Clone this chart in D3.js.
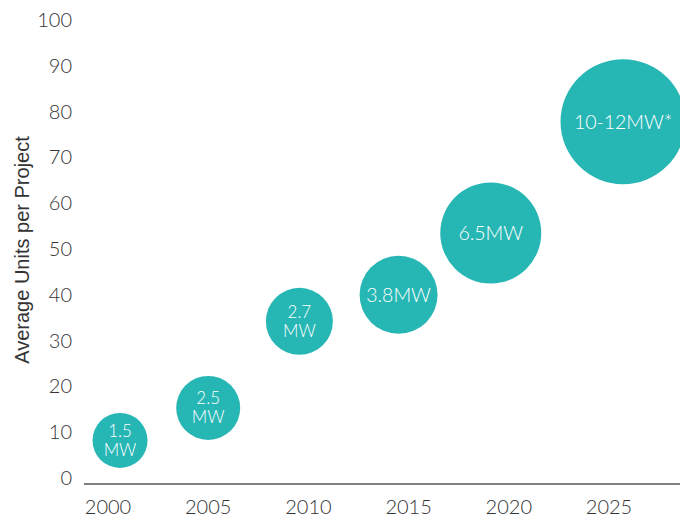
<!DOCTYPE html>
<html>
<head>
<meta charset="utf-8">
<script src="https://d3js.org/d3.v7.min.js"></script>
<style>
  body { margin: 0; background: #fff; font-family: Lato, "Open Sans", sans-serif; }
</style>
</head>
<body>
<script>
// chart data
var years = [2000, 2005, 2010, 2015, 2020, 2025];
var yTicks = [0, 10, 20, 30, 40, 50, 60, 70, 80, 90, 100];
var bubbleYear = [2000.6, 2005.0, 2009.55, 2014.5, 2019.1, 2025.7];
var unitsPerProject = [8.2, 15.3, 34.2, 40, 53.5, 77.8];
var bubbleSize = [27.5, 32, 33.5, 39, 50.5, 62.5];
var bubbleLabels = [["1.5", "MW"], ["2.5", "MW"], ["2.7", "MW"], ["3.8MW"], ["6.5MW"], ["10-12MW*"]];

var width = 680, height = 517;
var teal = "#26b6b4", ink = "#333";

var svg = d3.select("body").append("svg")
  .attr("width", width)
  .attr("height", height);

var x = d3.scaleLinear().domain([2000, 2025]).range([108, 609]);
var y = d3.scaleLinear().domain([0, 100]).range([478, 20]);
var r = d3.scaleLinear().domain([0, 100]).range([0, 100]);

// baseline
svg.append("line")
  .attr("x1", 84).attr("x2", 680)
  .attr("y1", 484).attr("y2", 484)
  .attr("stroke", "#555").attr("stroke-width", 1.6);

// y tick labels
svg.append("g").selectAll("text")
  .data(yTicks)
  .enter().append("text")
  .attr("x", 72)
  .attr("y", function(d) { return y(d); })
  .attr("dy", "0.35em")
  .attr("text-anchor", "end")
  .attr("font-size", 20)
  .attr("font-weight", 300)
  .attr("fill", ink)
  .text(function(d) { return d; });

// x tick labels
svg.append("g").selectAll("text")
  .data(years)
  .enter().append("text")
  .attr("x", function(d) { return x(d); })
  .attr("y", 507)
  .attr("dy", "0.35em")
  .attr("text-anchor", "middle")
  .attr("font-size", 20)
  .attr("font-weight", 300)
  .attr("fill", ink)
  .text(function(d) { return d; });

// axis title
svg.append("text")
  .attr("transform", "translate(22,250) rotate(-90)")
  .attr("dy", "0.35em")
  .attr("text-anchor", "middle")
  .attr("font-family", "'Liberation Sans', Arial, sans-serif")
  .attr("font-size", 20)
  .attr("fill", ink)
  .text("Average Units per Project");

var data = bubbleYear.map(function(yr, i) {
  return { year: yr, units: unitsPerProject[i], size: bubbleSize[i], label: bubbleLabels[i] };
});

var g = svg.append("g").selectAll("g")
  .data(data)
  .enter().append("g")
  .attr("transform", function(d) { return "translate(" + x(d.year) + "," + y(d.units) + ")"; });

g.append("circle")
  .attr("r", function(d) { return r(d.size); })
  .attr("fill", teal);

g.each(function(d) {
  var n = d.label.length;
  d3.select(this).selectAll("text")
    .data(d.label)
    .enter().append("text")
    .attr("y", function(t, i) { return (i - (n - 1) / 2) * 19; })
    .attr("dy", "0.35em")
    .attr("text-anchor", "middle")
    .attr("font-size", n > 1 ? 17 : 19.5)
    .attr("font-weight", 300)
    .attr("fill", "#fff")
    .text(function(t) { return t; });
});
</script>
</body>
</html>
